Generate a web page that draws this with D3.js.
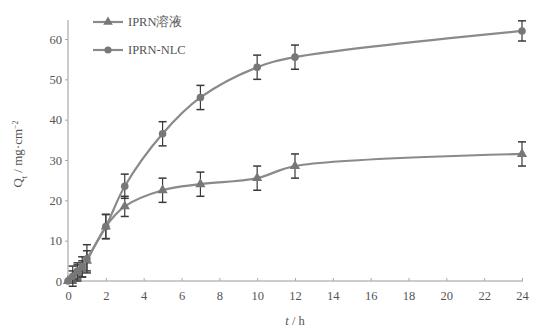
<!DOCTYPE html>
<html><head><meta charset="utf-8">
<script src="https://cdn.jsdelivr.net/npm/d3@7/dist/d3.min.js"></script>
<style>body{margin:0;background:#fff}svg{display:block}</style>
</head><body>
<svg id="c" width="536" height="333"></svg>
<script>
const times = [0, 0.25, 0.5, 0.75, 1, 2, 3, 5, 7, 10, 12, 24];
const solution = [0, 1, 2, 3, 5, 13.5, 18.5, 22.5, 24, 25.5, 28.5, 31.5];
const solutionErr = [0, 1.5, 2, 2, 2.5, 3, 2.5, 3, 3, 3, 3, 3];
const nlc = [0, 1.2, 2.5, 3.5, 5.5, 13.5, 23.5, 36.5, 45.5, 53, 55.5, 62];
const nlcErr = [0, 2.5, 2, 2.5, 3.5, 3, 3, 3, 3, 3, 3, 2.5];
const xTicks = [0, 2, 4, 6, 8, 10, 12, 14, 16, 18, 20, 22, 24];
const yTicks = [0, 10, 20, 30, 40, 50, 60];
const seriesNames = ["IPRN溶液", "IPRN-NLC"];

const svg = d3.select("#c");
const x = d3.scaleLinear().domain([0, 24]).range([68, 522]);
const y = d3.scaleLinear().domain([0, 60]).range([281, 39]);
const lineCol = "#8a8a8a", errCol = "#3a3a3a", txtCol = "#555";
const font = "'Liberation Serif','DejaVu Serif',serif";

// axes
const xa = svg.append("g").attr("transform", "translate(0,281)")
  .call(d3.axisBottom(x).tickValues(xTicks).tickSize(-3).tickPadding(10));
xa.select(".domain").attr("stroke", "#999").attr("d", "M68,0H523");
const ya = svg.append("g").attr("transform", "translate(68,0)")
  .call(d3.axisLeft(y).tickValues(yTicks).tickSize(3).tickPadding(3));
ya.select(".domain").attr("stroke", "#999").attr("d", "M0,20V281");
svg.selectAll(".tick line").attr("stroke", "#aaa");
svg.selectAll(".tick text").attr("fill", txtCol).style("font-family", font).style("font-size", "12.5px");

// axis titles
svg.append("text").attr("x", 295).attr("y", 325).attr("text-anchor", "middle")
  .attr("fill", txtCol).style("font-family", font).style("font-size", "12.5px")
  .html("<tspan font-style='italic'>t</tspan> / h");
svg.append("text").attr("transform", "translate(22,154) rotate(-90)").attr("text-anchor", "middle")
  .attr("fill", txtCol).style("font-family", font).style("font-size", "13px")
  .html("Q<tspan baseline-shift='sub' font-size='8'>t</tspan> / mg·cm<tspan baseline-shift='super' font-size='8'>−2</tspan>");

const line = d3.line().x(d => x(d[0])).y(d => y(d[1])).curve(d3.curveCatmullRom.alpha(0.5));
const series = [
  {vals: solution, err: solutionErr, sym: d3.symbolTriangle},
  {vals: nlc, err: nlcErr, sym: d3.symbolCircle}
];
series.forEach(s => {
  const pts = times.map((t, i) => [t, s.vals[i], s.err[i]]);
  svg.append("path").datum(pts).attr("d", line).attr("fill", "none")
    .attr("stroke", lineCol).attr("stroke-width", 2.2);
  const g = svg.append("g");
  pts.filter(p => p[2] > 0).forEach(p => {
    const cx = x(p[0]), y1 = y(p[1] + p[2]), y2 = y(p[1] - p[2]);
    g.append("line").attr("x1", cx).attr("x2", cx).attr("y1", y1).attr("y2", y2).attr("stroke", errCol).attr("stroke-width", 1.2);
    [y1, y2].forEach(yy => g.append("line").attr("x1", cx - 4).attr("x2", cx + 4).attr("y1", yy).attr("y2", yy).attr("stroke", errCol).attr("stroke-width", 1.5));
  });
  svg.append("g").selectAll("path").data(pts).join("path")
    .attr("transform", p => `translate(${x(p[0])},${y(p[1])})`)
    .attr("d", d3.symbol().type(s.sym).size(45)).attr("fill", "#777");
});

// legend
const leg = [{y: 22, sym: d3.symbolTriangle}, {y: 50, sym: d3.symbolCircle}];
leg.forEach((l, i) => {
  svg.append("line").attr("x1", 93).attr("x2", 123).attr("y1", l.y).attr("y2", l.y)
    .attr("stroke", lineCol).attr("stroke-width", 2.2);
  svg.append("path").attr("transform", `translate(108,${l.y})`)
    .attr("d", d3.symbol().type(l.sym).size(40)).attr("fill", "#777");
  svg.append("text").attr("x", 128).attr("y", l.y + 4).attr("fill", txtCol)
    .style("font-family", font).style("font-size", "12.5px").text(seriesNames[i]);
});
</script>
</body></html>
